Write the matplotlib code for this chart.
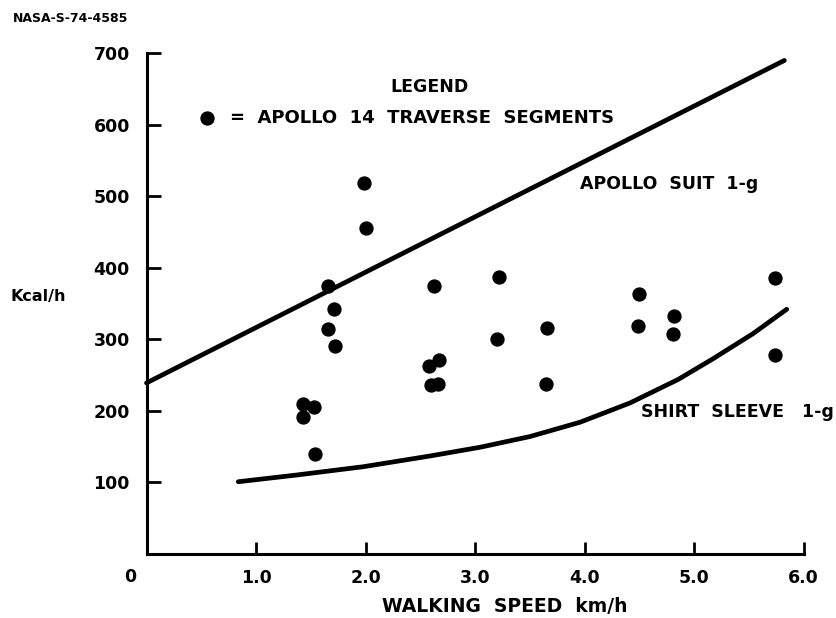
import matplotlib
matplotlib.use("Agg")
import matplotlib.pyplot as plt

# Apollo 14 traverse segments
speed = [1.43, 1.53, 1.43, 1.54, 1.655, 1.71, 1.66, 1.72, 1.99, 2.00,
         2.58, 2.67, 2.595, 2.665, 2.63, 3.20, 3.22, 3.655, 3.65,
         4.50, 4.49, 4.82, 4.805, 5.74, 5.74]
kcal = [210, 206, 191, 140, 375, 342, 314, 290, 519, 455,
        263, 271, 236, 238, 375, 301, 387, 316, 238,
        364, 318, 332, 308, 386, 278]

# Apollo suit 1-g line
suit_x = [0.0, 5.825]
suit_y = [239, 690]

# Shirt sleeve 1-g curve
sleeve_x = [0.838, 1.372, 1.98, 2.589, 3.046, 3.502, 3.959, 4.416, 4.857, 5.176, 5.54, 5.847]
sleeve_y = [100.8, 110.2, 121.8, 136.8, 149, 164, 184, 211, 244, 273, 308, 342]

xticks = [1.0, 2.0, 3.0, 4.0, 5.0, 6.0]
yticks = [100, 200, 300, 400, 500, 600, 700]

FONT = "DejaVu Sans"
plt.rcParams['font.family'] = [FONT]

fig = plt.figure(figsize=(8.36, 6.18), dpi=100)
ax = fig.add_axes([146.5/836, 1 - 553.8/618, 657/836, 500.5/618])

ax.plot(suit_x, suit_y, color="black", lw=3.4, solid_capstyle="round", clip_on=False)
ax.plot(sleeve_x, sleeve_y, color="black", lw=3.4, solid_capstyle="round",
        solid_joinstyle="round", clip_on=False)
ax.plot(speed, kcal, "o", color="black", ms=9.3, clip_on=False)

ax.set_xlim(0, 6)
ax.set_ylim(0, 700)
for s in ["top", "right"]:
    ax.spines[s].set_visible(False)
for s in ["left", "bottom"]:
    ax.spines[s].set_linewidth(2.2)

ax.set_xticks(xticks)
ax.set_xticklabels([f"{v:.1f}" for v in xticks])
ax.set_yticks(yticks)
ax.set_yticklabels([str(v) for v in yticks])
ax.tick_params(axis="both", direction="in", width=2.0, labelsize=12.5)
ax.tick_params(axis="y", length=10, pad=12)
ax.tick_params(axis="x", length=8.5, pad=11)
for lab in ax.get_xticklabels() + ax.get_yticklabels():
    lab.set_fontweight("bold")

fig.text(130/836, 1 - 577/618, "0", fontsize=12.5, fontweight="bold", ha="center", va="center")
fig.text(504.5/836, 1 - 607/618, "WALKING  SPEED  km/h", fontsize=13.5, fontweight="bold",
         ha="center", va="center")
fig.text(38/836, 1 - 297/618, "Kcal/h", fontsize=11.5, fontweight="bold", ha="center", va="center")
fig.text(13/836, 1 - 19/618, "NASA-S-74-4585", fontsize=9, fontweight="bold", ha="left", va="center")

fig.text(430/836, 1 - 87/618, "LEGEND", fontsize=12.5, fontweight="bold", ha="center", va="center")
ax.plot([0.554], [610], "o", color="black", ms=9.3, clip_on=False)
fig.text(230/836, 1 - 118/618, "=  APOLLO  14  TRAVERSE  SEGMENTS", fontsize=13,
         fontweight="bold", ha="left", va="center")
fig.text(669/836, 1 - 184/618, "APOLLO  SUIT  1-g", fontsize=12.5, fontweight="bold",
         ha="center", va="center")
fig.text(737/836, 1 - 412/618, "SHIRT  SLEEVE   1-g", fontsize=12.5, fontweight="bold",
         ha="center", va="center")

fig.savefig("out.png", dpi=100)
